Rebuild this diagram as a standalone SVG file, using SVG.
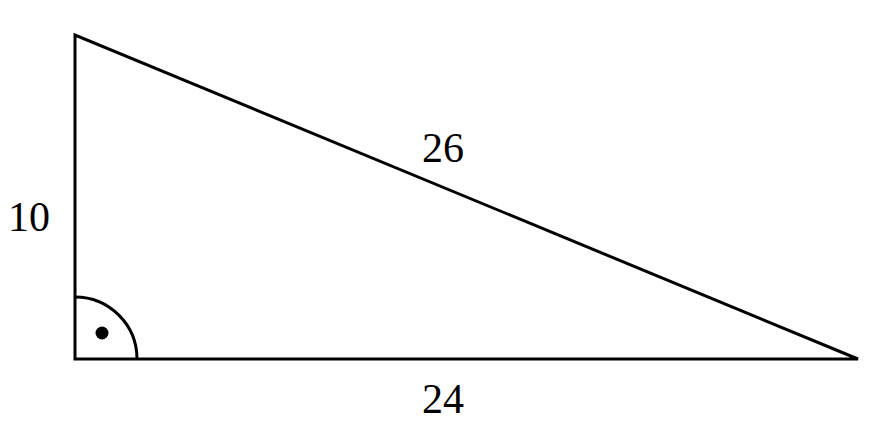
<svg xmlns="http://www.w3.org/2000/svg" width="882" height="424" viewBox="0 0 882 424">
<style>
.ln{fill:none;stroke:#000;stroke-width:3;stroke-linejoin:miter}
.lbl{font-family:"Liberation Serif","DejaVu Serif",serif;font-size:42px;fill:#000;text-anchor:middle}
</style>
<rect width="882" height="424" fill="#fff"/>
<g id="triangle">
<polygon class="ln" points="75,35 75,359 858,359"/>
</g>
<g id="right-angle">
<path class="ln" stroke-width="2.5" d="M75,297 A62,62 0 0 1 137,359"/>
<circle cx="102" cy="333" r="6.5" fill="#000"/>
</g>
<g id="labels">
<text class="lbl" x="29" y="231">10</text>
<text class="lbl" x="443" y="162">26</text>
<text class="lbl" x="443" y="413">24</text>
</g>
</svg>
